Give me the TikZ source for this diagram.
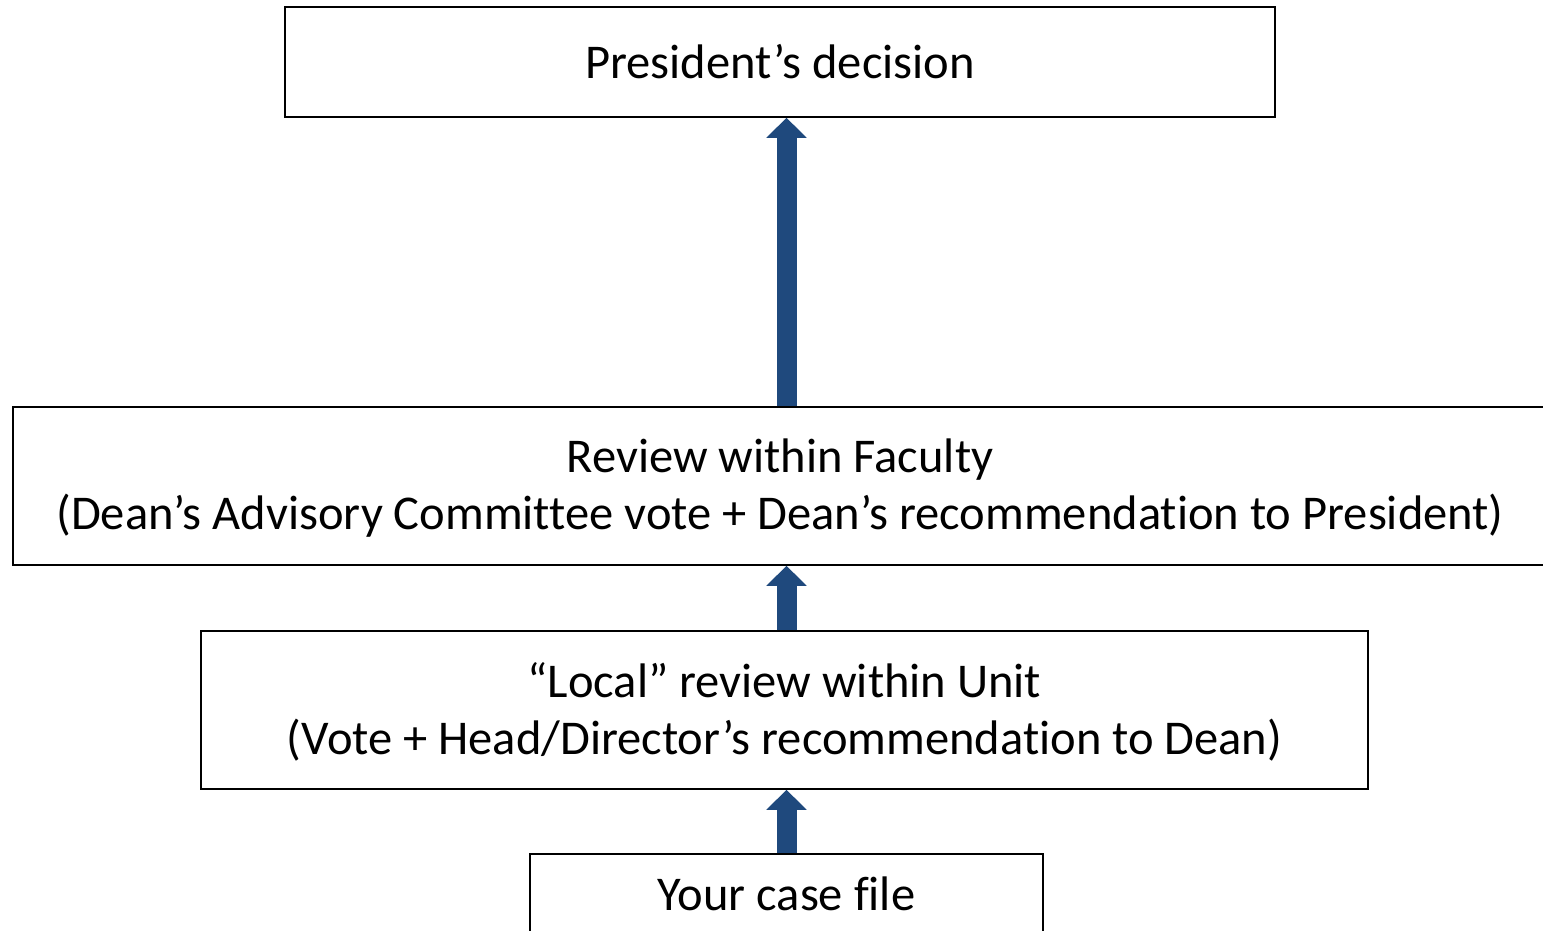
\documentclass[tikz,border=0pt]{standalone}
\usepackage{fontspec}
\setmainfont[Ligatures=NoCommon]{Carlito}
\usetikzlibrary{arrows.meta}
\definecolor{arrowblue}{RGB}{31,73,125}
\tikzset{
  stagebox/.style={draw=black, line width=1.5pt, fill=white, inner sep=0pt, align=center,
    font=\fontsize{48.5}{57}\selectfont},
  twoline/.style={text depth=4pt},
  bigarrow/.style={draw=arrowblue, line width=20pt, -{Triangle[width=39pt,length=20pt]}}
}
\begin{document}
\begin{tikzpicture}[x=1pt,y=-1pt]
\useasboundingbox (0,0) rectangle (1543,930);
\node[stagebox, minimum width=990pt, minimum height=110pt] (top) at (780,62) {President’s decision};
\node[stagebox, twoline, minimum width=1534pt, minimum height=158pt] (faculty) at (780,486) {Review within Faculty\\(Dean’s Advisory Committee vote + Dean’s recommendation to President)};
\node[stagebox, twoline, minimum width=1167pt, minimum height=158pt] (unit) at (784.5,710) {“Local” review within Unit\\(Vote + Head/Director’s recommendation to Dean)};
\node[stagebox, minimum width=513pt, minimum height=80pt] (case) at (786.5,894) {Your case file};
\coordinate (ax) at (786.5,0);
\draw[bigarrow] (ax |- case.north) -- (ax |- unit.south);
\draw[bigarrow] (ax |- unit.north) -- (ax |- faculty.south);
\draw[bigarrow] (ax |- faculty.north) -- (ax |- top.south);
\end{tikzpicture}
\end{document}
